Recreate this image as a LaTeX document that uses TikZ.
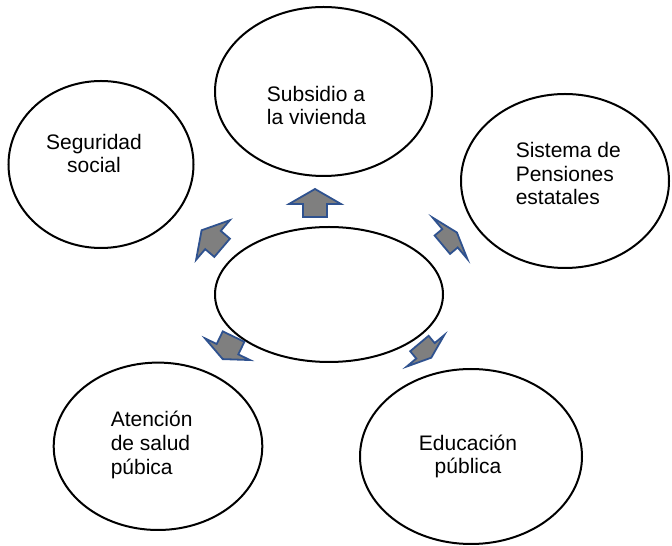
\documentclass[tikz,border=0pt]{standalone}
\usepackage{fontspec}
\setmainfont{Liberation Sans}
\usetikzlibrary{shapes.geometric}
\definecolor{arrowblue}{HTML}{2F528F}
\definecolor{arrowgray}{HTML}{7F7F7F}
\newcommand{\myarrow}[6]{%
  \draw[blockarrow, shift={(#1,#2)}, rotate=#3]
    (-#5,-12) -- (0,-12) -- (0,-#6) -- (#4,0) -- (0,#6) -- (0,12) -- (-#5,12) -- cycle;}
\begin{document}
\begin{tikzpicture}[x=1pt,y=1pt,
  bubble/.style={draw=black, line width=2pt, ellipse, inner sep=0pt, outer sep=0pt},
  blockarrow/.style={draw=arrowblue, fill=arrowgray, line width=1.8pt, line join=miter},
  label/.style={inner sep=0pt, font=\fontsize{21}{23.7}\selectfont}]
\useasboundingbox (0,0) rectangle (672,546);
% ellipses
\node[bubble, minimum width=185pt, minimum height=167pt] (seg) at (101,381.5) {};
\node[bubble, minimum width=217pt, minimum height=169pt] (sub) at (323.5,454.5) {};
\node[bubble, minimum width=208pt, minimum height=174pt] (sis) at (565,365) {};
\node[bubble, minimum width=228pt, minimum height=135pt] (cen) at (329,251.5) {};
\node[bubble, minimum width=208.6pt, minimum height=167.4pt] (ate) at (158,99.7) {};
\node[bubble, minimum width=222pt, minimum height=175pt] (edu) at (471,89.5) {};
% texts
\node[label, anchor=north west, align=left] (tsub) at (266.7,461.5) {\strut Subsidio a\\la vivienda};
\node[label, anchor=north, align=center] (tseg) at (94,413.5) {\strut Seguridad\\social};
\node[label, anchor=north west, align=left] (tsis) at (515.6,405.2) {\strut Sistema de\\Pensiones\\estatales};
\node[label, anchor=north west, align=left] (tate) at (110.6,135.8) {\strut Atención\\de salud\\púbica};
\node[label, anchor=north, align=center] (tedu) at (468,112.5) {\strut Educación\\pública};
% block arrows
\myarrow{315}{342}{90}{15}{13}{26}
\myarrow{213}{306}{139.5}{15}{12}{26}
\myarrow{450}{307.7}{40}{9}{10}{27}
\myarrow{227.5}{196.8}{244.3}{11}{14}{25}
\myarrow{425.5}{195.2}{-50}{9}{9.5}{24.5}
\end{tikzpicture}
\end{document}
